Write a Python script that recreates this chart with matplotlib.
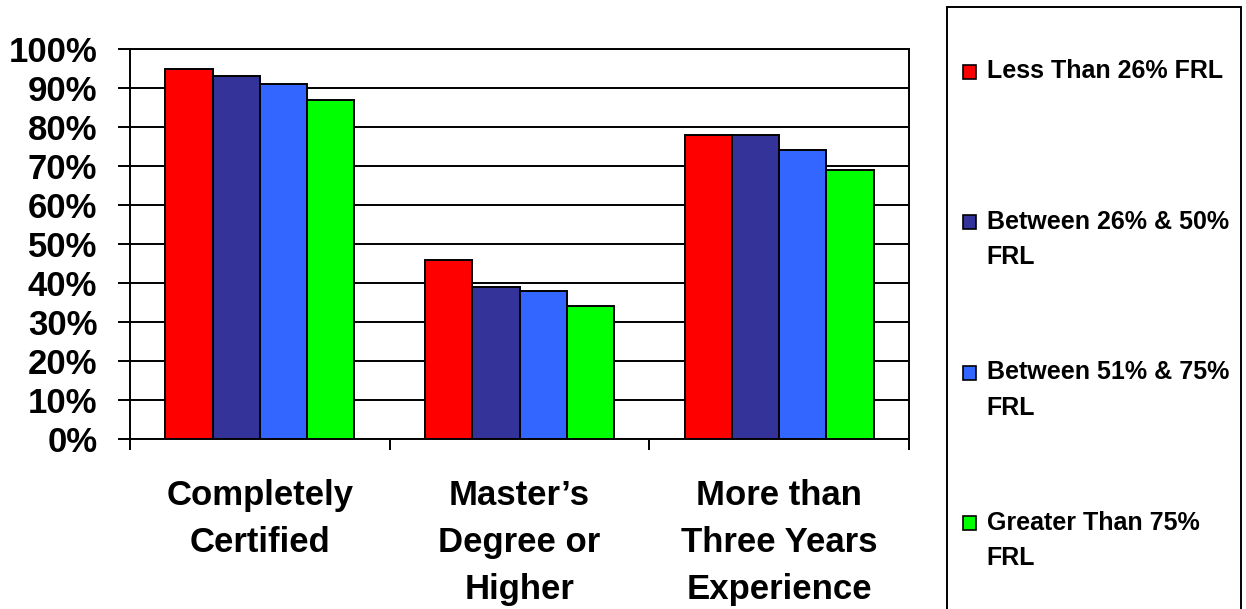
import numpy as np
import matplotlib.pyplot as plt
from matplotlib.patches import Rectangle
from matplotlib.ticker import PercentFormatter

plt.rcParams['font.family'] = ['Liberation Sans', 'DejaVu Sans']
plt.rcParams['font.weight'] = 'bold'

# datos
categorias = ['Completely\nCertified', 'Master\u2019s\nDegree or\nHigher',
              'More than\nThree Years\nExperience']
series = ['Less Than 26% FRL\n', 'Between 26% & 50%\nFRL',
          'Between 51% & 75%\nFRL', 'Greater Than 75%\nFRL']
valores = [
    [95, 46, 78],
    [93, 39, 78],
    [91, 38, 74],
    [87, 34, 69],
]
colores = ['#ff0000', '#333399', '#3366ff', '#00ff00']

W, H = 1246, 609
fig = plt.figure(figsize=(W/100, H/100), dpi=100)
ax = fig.add_axes([130/W, 1 - 439/H, 779/W, 390/H])

x = np.arange(len(categorias))
w = 0.182
handles = []
for i, (s, v, c) in enumerate(zip(series, valores, colores)):
    b = ax.bar(x + (i - 1.5) * w, v, w, color=c, edgecolor='black',
               linewidth=1.4, label=s, zorder=3)
    handles.append(b)

ax.set_xlim(-0.5, 2.5)
ax.set_ylim(0, 100)
ax.set_yticks(np.arange(0, 101, 10))
ax.yaxis.set_major_formatter(PercentFormatter(decimals=0))
ax.yaxis.grid(True, color='black', linewidth=1.4, zorder=0)
for sp in ax.spines.values():
    sp.set_linewidth(1.4)

# ticks del eje x en los límites de grupo, etiquetas en el centro
ax.set_xticks([-0.5, 0.5, 1.5, 2.5])
ax.set_xticklabels([])
ax.set_xticks(x, minor=True)
ax.set_xticklabels(categorias, minor=True, fontsize=25, fontweight='bold',
                   linespacing=1.55)
ax.tick_params(axis='x', which='major', length=8, width=1.4, direction='out')
ax.tick_params(axis='x', which='minor', length=0, pad=28.5)
ax.tick_params(axis='y', length=8.5, width=1.4, labelsize=25, pad=15)
for lb in ax.get_yticklabels():
    lb.set_fontweight('bold')

# leyenda: caja fija (se sale por abajo) y entradas
fig.patches.append(Rectangle((947/W, -10/H), 294/W, 612/H,
                             transform=fig.transFigure, fill=False,
                             edgecolor='black', linewidth=1.4))
fs_leg = 18
leg = fig.legend(handles=handles, loc='upper left',
                 bbox_to_anchor=(963/W, 1 - 59/H), fontsize=fs_leg,
                 frameon=False, handlelength=0.5, handleheight=0.5,
                 handletextpad=0.45, labelspacing=3.63, borderpad=0,
                 borderaxespad=0)
for t in leg.get_texts():
    t.set_fontweight('bold')
    t.set_linespacing(1.62)
for h in leg.legend_handles:
    h.set_linewidth(1.2)
    h.set_y(h.get_y() + 12.8)

plt.savefig('out.png', dpi=100)
